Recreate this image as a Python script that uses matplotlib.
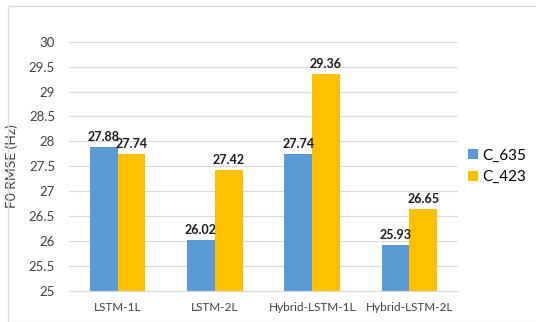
import numpy as np
import matplotlib.pyplot as plt
from matplotlib.patches import Rectangle

# F0 RMSE per model, two corpora
models = ['LSTM-1L', 'LSTM-2L', 'Hybrid-LSTM-1L', 'Hybrid-LSTM-2L']
c_635 = [27.88, 26.02, 27.74, 25.93]
c_423 = [27.74, 27.42, 29.36, 26.65]
series_names = ['C_635', 'C_423']
yticks = [25, 25.5, 26, 26.5, 27, 27.5, 28, 28.5, 29, 29.5, 30]

plt.rcParams['font.family'] = ['Lato', 'DejaVu Sans']

W, H = 536, 322
fig = plt.figure(figsize=(W / 100, H / 100), dpi=100)
ax = fig.add_axes([69 / W, 1 - 291 / H, (458 - 69) / W, (291 - 41.7) / H])

x = np.arange(len(models))
bw = 0.285
colors = ['#5b9bd5', '#ffc000']
for i, (vals, name) in enumerate(zip([c_635, c_423], series_names)):
    pos = x + (i - 0.5) * bw
    ax.bar(pos, np.array(vals) - 25, bw, bottom=25, color=colors[i], label=name, zorder=2)
    for px, v in zip(pos, vals):
        ax.text(px, v + 0.08, f'{v:.2f}', ha='center', va='bottom',
                fontsize=9, fontweight='bold', color='#1a1a1a')

ax.set_xlim(-0.5, len(models) - 0.5)
ax.set_ylim(25, 30)
ax.set_yticks(yticks)
ax.set_yticklabels([f'{t:g}' for t in yticks])
ax.set_xticks(x)
ax.set_xticklabels(models)
ax.tick_params(axis='both', length=0, colors='#404040')
ax.tick_params(axis='y', pad=10, labelsize=9.5)
ax.tick_params(axis='x', pad=8, labelsize=8.5)
ax.grid(axis='y', color='#d9d9d9', linewidth=0.8, zorder=0)
for s in ['top', 'right', 'left']:
    ax.spines[s].set_visible(False)
ax.spines['bottom'].set_color('#d9d9d9')
ax.set_ylabel('F0 RMSE (Hz)', fontsize=10, color='#404040', labelpad=8)

ax.legend(loc='center left', bbox_to_anchor=(0.99, 0.5), frameon=False,
          fontsize=11, handlelength=0.65, handleheight=0.65,
          handletextpad=0.3, labelspacing=0.5)

# chart-area border (partly cut by the image edge)
fig.patches.append(Rectangle((8 / W, 0), 1, 1 - 6 / H, transform=fig.transFigure,
                             fill=False, edgecolor='#d9d9d9', linewidth=1))

fig.savefig('out.png', dpi=100)
